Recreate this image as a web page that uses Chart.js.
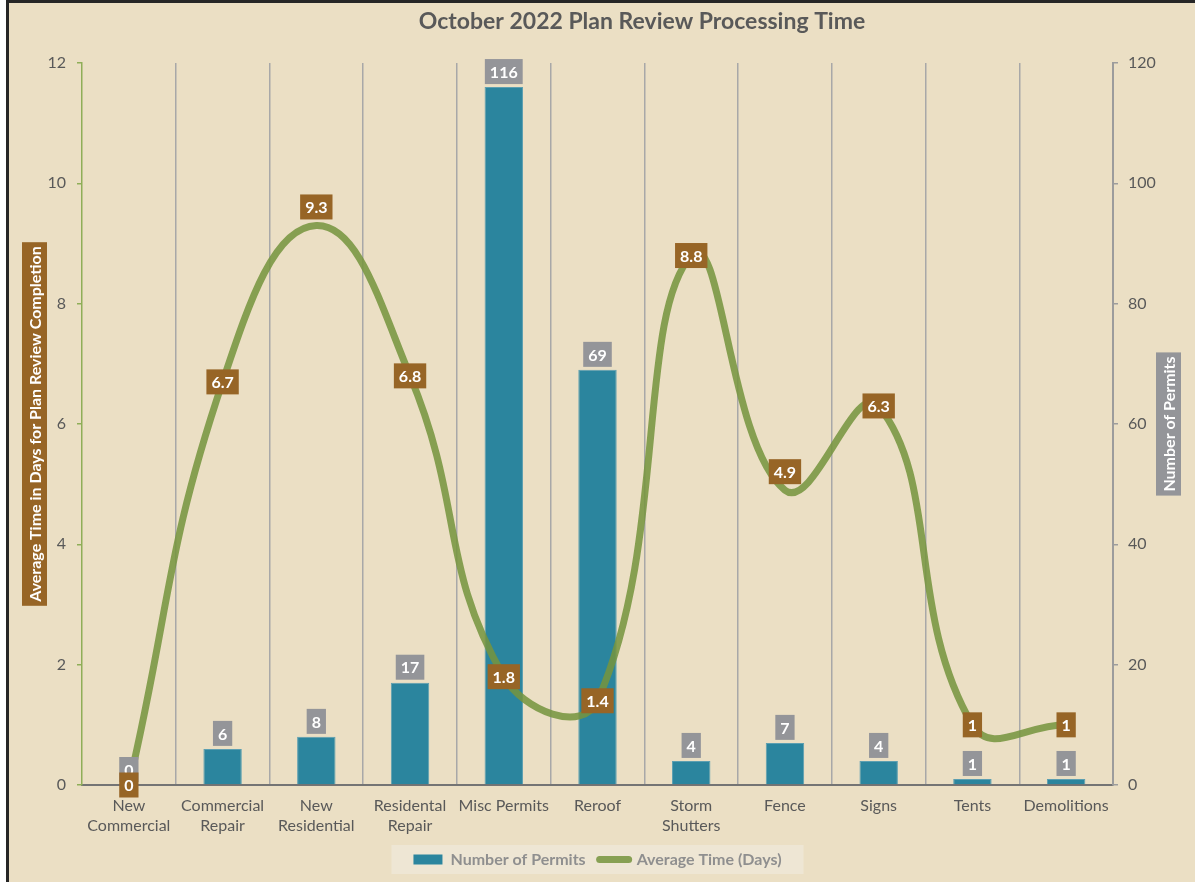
<!DOCTYPE html>
<html>
<head>
<meta charset="utf-8">
<script src="https://cdn.jsdelivr.net/npm/chart.js@4.4.0/dist/chart.umd.min.js"></script>
<style>
  html, body { margin: 0; padding: 0; background: #ffffff; }
  #wrap { width: 1195px; height: 882px; }
</style>
</head>
<body>
<div id="wrap"><canvas id="chartCanvas" width="1195" height="882"></canvas></div>
<script>
// chart data
const categories = [
    ['New', 'Commercial'], ['Commercial', 'Repair'], ['New', 'Residential'], ['Residental', 'Repair'],
    'Misc Permits', 'Reroof', ['Storm', 'Shutters'], 'Fence', 'Signs', 'Tents', 'Demolitions'
];
const permitCounts = [0, 6, 8, 17, 116, 69, 4, 7, 4, 1, 1];
const avgDays = [0, 6.7, 9.3, 6.8, 1.8, 1.4, 8.8, 4.9, 6.3, 1, 1];
const leftTicks = [0, 2, 4, 6, 8, 10, 12];
const rightTicks = [0, 20, 40, 60, 80, 100, 120];
const chartTitle = 'October 2022 Plan Review Processing Time';

const FONT = 'Lato, "Open Sans", sans-serif';
const CREAM = '#EBDFC4';
const BAR_BLUE = '#2B859E';
const LINE_GREEN = 'rgba(118,148,62,0.86)';
const LABEL_BROWN = '#976526';
const LABEL_GRAY = '#949599';
const TEXT_GRAY = '#595959';

// labels that sit above the curve instead of on it
const lineLabelAbove = [false, false, true, false, false, false, false, true, false, false, false];

function labelBox(ctx, cx, cy, text, bg) {
    ctx.font = 'bold 16px ' + FONT;
    const w = ctx.measureText(text).width + 10;
    const h = 25;
    ctx.fillStyle = bg;
    ctx.fillRect(cx - w / 2, cy - h / 2, w, h);
    ctx.fillStyle = '#ffffff';
    ctx.textAlign = 'center';
    ctx.textBaseline = 'middle';
    ctx.fillText(text, cx, cy + 1);
}

const backgroundPlugin = {
    id: 'background',
    beforeDraw(chart) {
        const ctx = chart.ctx;
        ctx.save();
        ctx.fillStyle = '#ffffff';
        ctx.fillRect(0, 0, chart.width, chart.height);
        ctx.fillStyle = CREAM;
        ctx.fillRect(6, 0, chart.width - 6, chart.height);
        ctx.fillStyle = '#262626';
        ctx.fillRect(6, 0, chart.width - 6, 3);
        ctx.fillRect(6, 0, 3, chart.height);

        // title (sits right of centre, as in the original)
        ctx.fillStyle = TEXT_GRAY;
        ctx.font = 'bold 23px ' + FONT;
        ctx.textAlign = 'center';
        ctx.textBaseline = 'middle';
        ctx.fillText(chartTitle, 642, 22);

        // legend backdrop
        const boxes = chart.legend && chart.legend.legendHitBoxes;
        if (boxes && boxes.length) {
            const left = boxes[0].left - 22;
            const last = boxes[boxes.length - 1];
            const right = last.left + last.width + 22;
            ctx.fillStyle = '#EEE6D4';
            ctx.fillRect(left, 845, right - left, 29);
        }
        ctx.restore();
    }
};

const dataLabelPlugin = {
    id: 'dataLabels',
    afterDatasetsDraw(chart) {
        const ctx = chart.ctx;
        ctx.save();
        const barMeta = chart.getDatasetMeta(0);
        barMeta.data.forEach((bar, i) => {
            labelBox(ctx, bar.x, bar.y - 3 - 12.5, String(permitCounts[i]), LABEL_GRAY);
        });
        const lineMeta = chart.getDatasetMeta(1);
        lineMeta.data.forEach((pt, i) => {
            const cy = lineLabelAbove[i] ? pt.y - 6 - 12.5 : pt.y;
            labelBox(ctx, pt.x, cy, String(avgDays[i]), LABEL_BROWN);
        });
        ctx.restore();
    },
    afterDraw(chart) {
        // axis titles in filled boxes
        const ctx = chart.ctx;
        const area = chart.chartArea;
        const midY = (area.top + area.bottom) / 2;
        ctx.save();
        ctx.font = 'bold 16px ' + FONT;
        [[34.5, 'Average Time in Days for Plan Review Completion', LABEL_BROWN],
         [1168.5, 'Number of Permits', LABEL_GRAY]].forEach(([x, text, bg]) => {
            const w = ctx.measureText(text).width + 8;
            ctx.save();
            ctx.translate(x, midY);
            ctx.rotate(-Math.PI / 2);
            ctx.fillStyle = bg;
            ctx.fillRect(-w / 2, -12.5, w, 25);
            ctx.fillStyle = '#ffffff';
            ctx.textAlign = 'center';
            ctx.textBaseline = 'middle';
            ctx.fillText(text, 0, 1);
            ctx.restore();
        });
        ctx.restore();
    }
};

const ctx = document.getElementById('chartCanvas').getContext('2d');

const myChart = new Chart(ctx, {
    type: 'bar',
    data: {
        labels: categories,
        datasets: [
            {
                type: 'bar',
                label: 'Number of Permits',
                data: permitCounts,
                yAxisID: 'y1',
                backgroundColor: BAR_BLUE,
                borderColor: '#5C9FB1',
                borderWidth: 1,
                categoryPercentage: 1,
                barPercentage: 0.41,
                order: 2
            },
            {
                type: 'line',
                label: 'Average Time (Days)',
                data: avgDays,
                yAxisID: 'y',
                borderColor: LINE_GREEN,
                borderWidth: 7,
                tension: 0.45,
                pointRadius: 0,
                fill: false,
                order: 1
            }
        ]
    },
    options: {
        responsive: false,
        animation: false,
        layout: { padding: { top: 63, bottom: 4.5, left: 0, right: 0 } },
        plugins: {
            tooltip: { enabled: false },
            title: { display: false },
            legend: {
                position: 'bottom',
                labels: {
                    usePointStyle: true,
                    pointStyleWidth: 29,
                    boxHeight: 10,
                    padding: 14,
                    color: '#8F8F8F',
                    font: { family: FONT, size: 16, weight: 'bold' },
                    generateLabels: () => [
                        { text: 'Number of Permits', fillStyle: BAR_BLUE, strokeStyle: BAR_BLUE,
                          lineWidth: 0, pointStyle: 'rect', datasetIndex: 0, fontColor: '#8F8F8F' },
                        { text: 'Average Time (Days)', fillStyle: LINE_GREEN, strokeStyle: LINE_GREEN,
                          lineWidth: 7, lineCap: 'round', pointStyle: 'line', datasetIndex: 1, fontColor: '#8F8F8F' }
                    ]
                }
            }
        },
        scales: {
            x: {
                offset: true,
                afterFit: s => { s.height = 52.5; },
                grid: {
                    offset: true,
                    drawTicks: false,
                    lineWidth: 1.5,
                    color: c => (c.index === 0 || c.index === categories.length) ? 'rgba(0,0,0,0)' : '#A8A8A8'
                },
                border: { color: '#747474', width: 2 },
                ticks: {
                    color: TEXT_GRAY,
                    padding: 11,
                    maxRotation: 0,
                    autoSkip: false,
                    font: { family: FONT, size: 16, lineHeight: 1.25 }
                }
            },
            y: {
                position: 'left',
                min: 0,
                max: 12,
                afterFit: s => { s.width = 82; },
                afterBuildTicks: s => { s.ticks = leftTicks.map(v => ({ value: v })); },
                grid: { drawOnChartArea: false, tickLength: 5, tickColor: '#8FAE58', lineWidth: 1.5 },
                border: { color: '#8FAE58', width: 1.5 },
                ticks: { color: TEXT_GRAY, padding: 11, font: { family: FONT, size: 16 } }
            },
            y1: {
                position: 'right',
                min: 0,
                max: 120,
                afterFit: s => { s.width = 82; },
                afterBuildTicks: s => { s.ticks = rightTicks.map(v => ({ value: v })); },
                grid: { drawOnChartArea: false, tickLength: 5, tickColor: '#9C9C9C', lineWidth: 1.5 },
                border: { color: '#9C9C9C', width: 2 },
                ticks: { color: TEXT_GRAY, padding: 10, font: { family: FONT, size: 16 } }
            }
        }
    },
    plugins: [backgroundPlugin, dataLabelPlugin]
});
</script>
</body>
</html>
